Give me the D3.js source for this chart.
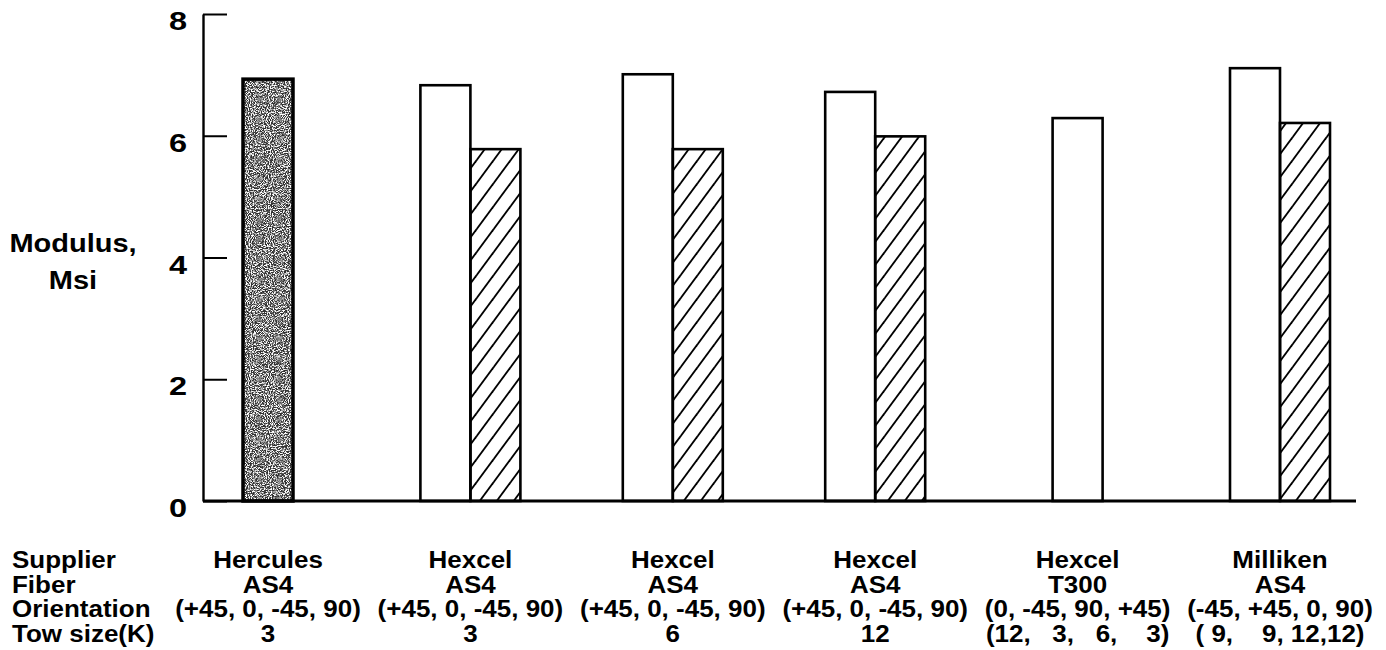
<!DOCTYPE html>
<html>
<head>
<meta charset="utf-8">
<script src="https://cdn.jsdelivr.net/npm/d3@7"></script>
<style>
  html, body { margin: 0; padding: 0; background: #fff; }
  svg { display: block; }
  text { font-family: "Liberation Sans", Arial, Helvetica, sans-serif; font-weight: bold; fill: #000; white-space: pre; }
</style>
</head>
<body>
<div id="chart"></div>
<script>
// ---- data ----
const suppliers    = ["Hercules", "Hexcel", "Hexcel", "Hexcel", "Hexcel", "Milliken"];
const fibers       = ["AS4", "AS4", "AS4", "AS4", "T300", "AS4"];
const orientations = ["(+45, 0, -45, 90)", "(+45, 0, -45, 90)", "(+45, 0, -45, 90)", "(+45, 0, -45, 90)", "(0, -45, 90, +45)", "(-45, +45, 0, 90)"];
const towSizes     = ["3", "3", "6", "12", "(12,   3,   6,    3)", "( 9,    9, 12,12)"];
const rowLabels    = ["Supplier", "Fiber", "Orientation", "Tow size(K)"];
const darkValues   = [6.93, null, null, null, null, null];
const openValues   = [null, 6.83, 7.01, 6.72, 6.29, 7.11];
const hatchValues  = [null, 5.78, 5.78, 5.99, null, 6.21];
const yTicks       = [0, 2, 4, 6, 8];
const yTitle       = ["Modulus,", "Msi"];

// ---- layout ----
const W = 1386, H = 650;
const svg = d3.select("#chart").append("svg").attr("width", W).attr("height", H);

const y = d3.scaleLinear().domain([0, 8]).range([501, 14]);
const x = d3.scalePoint().domain(d3.range(suppliers.length)).range([268, 1280]);
const barW = 50;
const axisX = 203;

const defs = svg.append("defs");
// hatch pattern "/"
const hp = defs.append("pattern").attr("id", "hatch").attr("patternUnits", "userSpaceOnUse")
  .attr("width", 17).attr("height", 23);
[[-1.5, 18.5], [-18.5, 1.5], [15.5, 35.5]].forEach(([a, b]) =>
  hp.append("line").attr("x1", a).attr("y1", 25).attr("x2", b).attr("y2", -2)
    .attr("stroke", "#000").attr("stroke-width", 1.9));

// grainy speckle filter for the dark bar
const f = defs.append("filter").attr("id", "speck")
  .attr("x", 0).attr("y", 0).attr("width", 1).attr("height", 1);
f.append("feTurbulence").attr("type", "fractalNoise").attr("baseFrequency", 0.95)
  .attr("numOctaves", 2).attr("seed", 5).attr("result", "n");
f.append("feColorMatrix").attr("in", "n").attr("type", "matrix")
  .attr("values", "0 0 0 0 1  0 0 0 0 1  0 0 0 0 1  4 0 0 0 -1.6").attr("result", "w");
f.append("feComposite").attr("in", "w").attr("in2", "SourceAlpha").attr("operator", "in");

// stretched-text helper
function stext(g, tx, ty, str, size, sx, anchor) {
  return g.append("text")
    .attr("transform", `translate(${tx},${ty}) scale(${sx},1)`)
    .attr("text-anchor", anchor || "middle")
    .style("font-size", size + "px")
    .text(str);
}

// ---- y axis ----
const yAxis = d3.axisRight(y).tickValues(yTicks).tickSize(24).tickSizeOuter(0).tickFormat("");
const ya = svg.append("g").attr("transform", `translate(${axisX},0)`).call(yAxis);
ya.select(".domain").attr("stroke", "#000").attr("stroke-width", 2.4);
ya.selectAll(".tick line").attr("stroke", "#000").attr("stroke-width", 2);

yTicks.forEach(t => stext(svg, 187, y(t) + 16, String(t), 25, 1.3, "end"));

// y title
stext(svg, 73, 252, yTitle[0], 25, 1.16, "middle");
stext(svg, 73, 289, yTitle[1], 25, 1.16, "middle");

// ---- bars ----
const bars = svg.append("g");
suppliers.forEach((s, i) => {
  const c = x(i);
  const hasTwo = (openValues[i] != null || darkValues[i] != null) && hatchValues[i] != null;
  const firstVal = darkValues[i] != null ? darkValues[i] : openValues[i];
  const x0 = hasTwo ? c - barW : c - barW / 2;
  if (darkValues[i] != null) {
    bars.append("rect").attr("x", x0).attr("y", y(firstVal)).attr("width", barW)
      .attr("height", y(0) - y(firstVal)).attr("fill", "#303030");
    bars.append("rect").attr("x", x0).attr("y", y(firstVal)).attr("width", barW)
      .attr("height", y(0) - y(firstVal)).attr("fill", "#000").attr("filter", "url(#speck)");
    bars.append("rect").attr("x", x0).attr("y", y(firstVal)).attr("width", barW)
      .attr("height", y(0) - y(firstVal)).attr("fill", "none").attr("stroke", "#000").attr("stroke-width", 3.5);
  } else if (openValues[i] != null) {
    bars.append("rect").attr("x", x0).attr("y", y(firstVal)).attr("width", barW)
      .attr("height", y(0) - y(firstVal)).attr("fill", "#fff").attr("stroke", "#000").attr("stroke-width", 2.6);
  }
  if (hatchValues[i] != null) {
    const hv = hatchValues[i];
    bars.append("rect").attr("x", c).attr("y", y(hv)).attr("width", barW)
      .attr("height", y(0) - y(hv)).attr("fill", "url(#hatch)").attr("stroke", "#000").attr("stroke-width", 2.6);
  }
});

// x axis line
svg.append("line").attr("x1", axisX).attr("x2", 1356).attr("y1", y(0)).attr("y2", y(0))
  .attr("stroke", "#000").attr("stroke-width", 2.8);

// ---- category table ----
const rowsY = [568, 593, 617, 642];
const rowsData = [suppliers, fibers, orientations, towSizes];
rowLabels.forEach((lab, r) => stext(svg, 12, rowsY[r], lab, 23, 1.13, "start"));
rowsData.forEach((arr, r) => {
  arr.forEach((v, i) => stext(svg, x(i), rowsY[r], v, 23, 1.13, "middle"));
});
</script>
</body>
</html>
